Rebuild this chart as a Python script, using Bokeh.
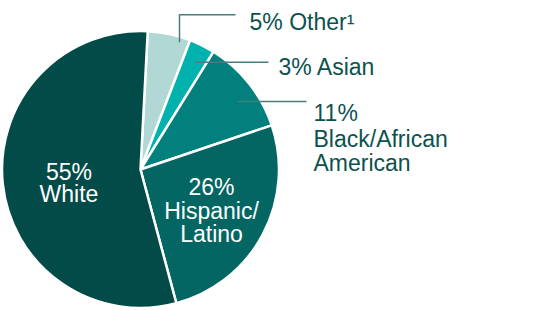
import math
from bokeh.plotting import figure
from bokeh.models import Range1d, ColumnDataSource
from bokeh.core.properties import value
from bokeh.embed import file_html
from bokeh.resources import INLINE

# ---- data ----
groups = ["Other", "Asian", "Black/African American", "Hispanic/Latino", "White"]
shares = [5, 3, 11, 26, 55]
colors = ["#b2d8d6", "#00b2ae", "#01807e", "#046663", "#034b48"]

W, H = 540, 310
def sy(py):
    return H - py

p = figure(width=W, height=H, output_backend="svg", toolbar_location=None,
           x_range=Range1d(0, W), y_range=Range1d(0, H), min_border=0)
p.axis.visible = False
p.grid.visible = False
p.outline_line_color = None
p.background_fill_color = "white"
p.border_fill_color = "white"

# pie geometry (layout)
cx, cy, r = 140, sy(169), 138.5
offset_deg = 3.0
total = sum(shares)
starts, ends = [], []
acc = 0.0
for s in shares:
    a0 = offset_deg + 360.0 * acc / total
    acc += s
    a1 = offset_deg + 360.0 * acc / total
    starts.append(math.radians(90 - a0))
    ends.append(math.radians(90 - a1))

src = ColumnDataSource(dict(start=starts, end=ends, color=colors))
p.wedge(x=cx, y=cy, radius=r, start_angle="start", end_angle="end",
        direction="clock", fill_color="color", line_color="white",
        line_width=2.5, source=src)

text_col = "#0b524f"
lead_col = "#4a7d7a"
font = value("Liberation Sans")
fs = value("23px")

# leader lines
p.line(x=[179, 179, 235], y=[sy(41.7), sy(14.3), sy(14.3)], line_color=lead_col, line_width=1.5)
p.line(x=[195, 268], y=[sy(61.7), sy(61.7)], line_color=lead_col, line_width=1.5)
p.line(x=[237, 306], y=[sy(101), sy(101)], line_color=lead_col, line_width=1.5)

# outside labels
p.text(x=[249], y=[sy(21)], text=[f"{shares[0]}% {groups[0]}\u00b9"], text_font=font,
       text_font_size=fs, text_color=text_col, text_baseline="alphabetic", text_align="left")
p.text(x=[278], y=[sy(66)], text=[f"{shares[1]}% {groups[1]}"], text_font=font,
       text_font_size=fs, text_color=text_col, text_baseline="alphabetic", text_align="left")
p.text(x=[313, 313, 313], y=[sy(112), sy(138.5), sy(162)],
       text=[f"{shares[2]}%", "Black/African", "American"], text_font=font,
       text_font_size=fs, text_color=text_col, text_baseline="alphabetic", text_align="left")

# inside labels
p.text(x=[68.5, 68.5], y=[sy(171), sy(193.5)], text=[f"{shares[4]}%", groups[4]], text_font=font,
       text_font_size=fs, text_color="white", text_baseline="alphabetic", text_align="center")
p.text(x=[211, 211, 211], y=[sy(186.5), sy(210), sy(233.5)], text=[f"{shares[3]}%", "Hispanic/", "Latino"],
       text_font=font, text_font_size=fs, text_color="white", text_baseline="alphabetic",
       text_align="center")

open("out.html", "w").write(file_html(p, INLINE))
